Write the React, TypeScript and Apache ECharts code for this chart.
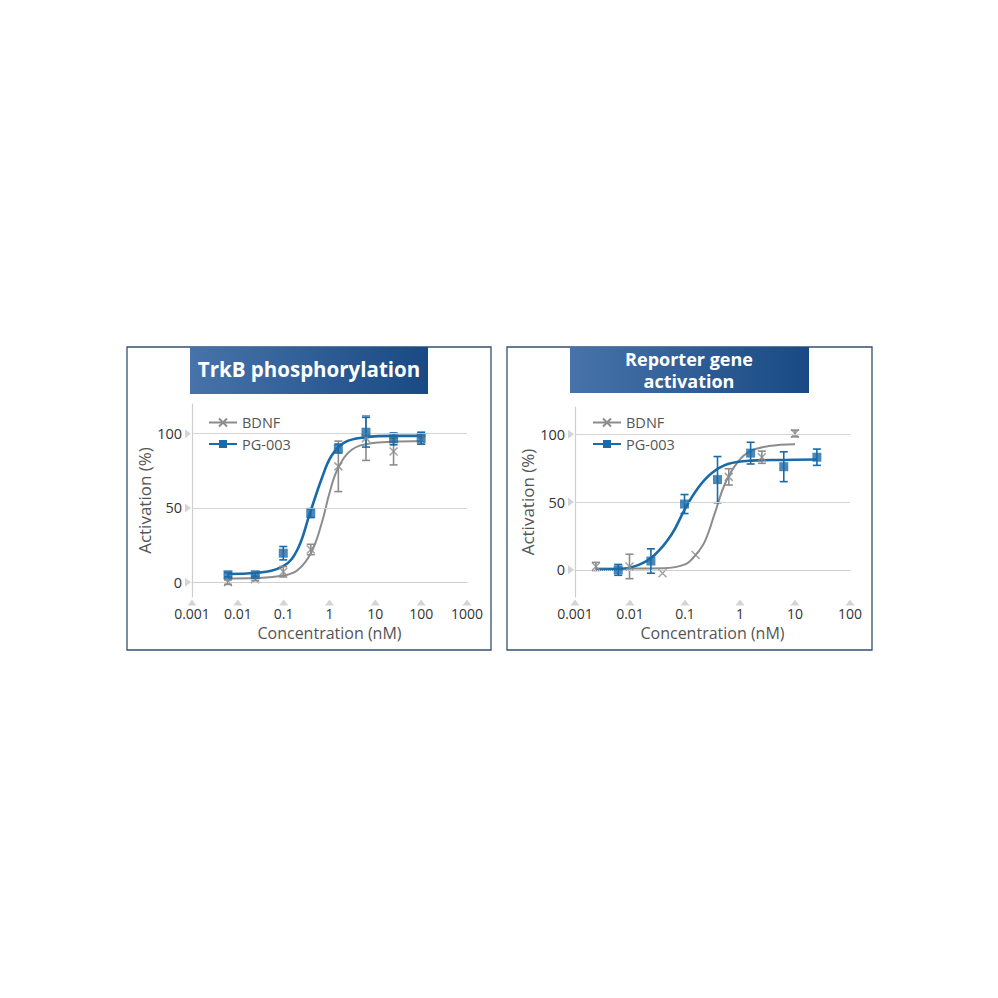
import { useRef, useEffect } from 'react';
import * as echarts from 'echarts';

// tick labels
const xTicksLeft = ['0.001', '0.01', '0.1', '1', '10', '100', '1000'];
const xTicksRight = ['0.001', '0.01', '0.1', '1', '10', '100'];
const yTicks = [0, 50, 100];

// TrkB phosphorylation – measured points
const leftConc = [0.0061, 0.024, 0.098, 0.39, 1.56, 6.25, 25, 100];
const leftBdnfMean = [0, 2, 7, 22, 78, 97, 88, 96];
const leftBdnfErr = [1.5, 1, 3.5, 3.5, 17, 15, 9, 3];
const leftPgMean = [5, 5, 19.5, 46.5, 90, 101, 96.5, 97];
const leftPgErr = [1.5, 1, 4.5, 3, 3, 10, 4, 4];

// TrkB phosphorylation – fitted curves
const leftPgCurveX = [0.0061, 0.025, 0.1, 0.2, 0.37, 0.68, 1.1, 2.1, 5.9, 25, 100];
const leftPgCurveY = [5.5, 6.3, 11, 22, 46, 70, 85, 94, 97.5, 98.5, 98.5];
const leftBdnfCurveX = [0.0061, 0.025, 0.1, 0.2, 0.4, 0.68, 1.0, 1.5, 3.0, 8, 25, 100];
const leftBdnfCurveY = [2.5, 2.8, 4.5, 8, 20, 40, 60, 76, 89, 93.5, 94.5, 95];

// Reporter gene activation – measured points
const rightBdnfConc = [0.0024, 0.0098, 0.039, 0.156, 0.625, 2.5, 10];
const rightBdnfMean = [2.5, 2.5, -2.5, 11, 68.5, 83, 100.5];
const rightBdnfErr = [3, 9, 0, 0, 6, 4.5, 2.5];
const rightPgConc = [0.0061, 0.024, 0.098, 0.39, 1.56, 6.25, 25];
const rightPgMean = [0, 6.5, 48.5, 66.5, 86, 76, 83];
const rightPgErr = [4, 9, 7, 17, 8, 11, 6];

// Reporter gene activation – fitted curves
const rightPgCurveX = [0.0024, 0.0061, 0.014, 0.028, 0.057, 0.1, 0.17, 0.3, 0.6, 1.56, 6.25, 25];
const rightPgCurveY = [0.3, 0.6, 3.5, 11, 26, 45, 60, 71, 78, 80.5, 81, 81.3];
const rightBdnfCurveX = [0.0024, 0.0098, 0.04, 0.1, 0.156, 0.23, 0.35, 0.54, 0.93, 1.55, 3.3, 10];
const rightBdnfCurveY = [1, 1, 1.2, 4, 11, 21, 42, 64, 80, 87.5, 91.2, 92.6];

const BLUE = '#1b6aa8';
const GRAY = '#8c8c8c';
const AXIS = '#cfcfcf';
const X_PATH = 'path://M0,0L10,10M0,10L10,0';
const FONT = '"Open Sans", "Noto Sans", sans-serif';

const zip = (xs: number[], ys: number[]) => xs.map((x, i) => [x, ys[i]]);
const zip3 = (xs: number[], ys: number[], es: number[]) => xs.map((x, i) => [x, ys[i], es[i]]);

const errorBars = (name: string, idx: number, data: number[][], color: string) => ({
  name,
  type: 'custom',
  xAxisIndex: idx,
  yAxisIndex: idx,
  silent: true,
  z: 3,
  data,
  renderItem: (_params: any, api: any) => {
    const x = api.value(0);
    const y = api.value(1);
    const e = api.value(2);
    if (!e) return { type: 'group', children: [] };
    const lo = api.coord([x, y - e]);
    const hi = api.coord([x, y + e]);
    const w = 4;
    const style = { stroke: color, lineWidth: 1.6 };
    return {
      type: 'group',
      children: [
        { type: 'line', shape: { x1: lo[0], y1: lo[1], x2: hi[0], y2: hi[1] }, style },
        { type: 'line', shape: { x1: lo[0] - w, y1: lo[1], x2: lo[0] + w, y2: lo[1] }, style },
        { type: 'line', shape: { x1: hi[0] - w, y1: hi[1], x2: hi[0] + w, y2: hi[1] }, style },
      ],
    };
  },
});

const curve = (name: string, idx: number, data: number[][], color: string, width: number, symbol: string) => ({
  name,
  type: 'line',
  xAxisIndex: idx,
  yAxisIndex: idx,
  data,
  smooth: 0.4,
  showSymbol: false,
  symbol,
  z: color === BLUE ? 2.5 : 2,
  lineStyle: { color, width },
  itemStyle: symbol === X_PATH
    ? { color, borderColor: color, borderWidth: 1.5 }
    : { color },
});

const markers = (name: string, idx: number, data: number[][], color: string, symbol: string, size: number) => ({
  name,
  type: 'scatter',
  xAxisIndex: idx,
  yAxisIndex: idx,
  data,
  symbol,
  symbolSize: size,
  silent: true,
  z: color === BLUE ? 5 : 4,
  itemStyle: symbol === X_PATH
    ? { color, borderColor: color, borderWidth: 1.5 }
    : { color },
});

const tickMarks = (idx: number, xTicks: string[], yMin: number) => ({
  type: 'scatter',
  xAxisIndex: idx,
  yAxisIndex: idx,
  silent: true,
  clip: false,
  z: 1,
  symbol: 'triangle',
  symbolSize: [9, 6],
  itemStyle: { color: '#c9c9c9' },
  data: [
    ...xTicks.map((t) => ({ value: [Number(t), yMin], symbolOffset: [0, 5.5] })),
    ...yTicks.map((t) => ({ value: [0.001, t], symbolOffset: [-4, 0], symbolRotate: -90 })),
  ],
  markLine: {
    silent: true,
    symbol: 'none',
    label: { show: false },
    lineStyle: { color: '#d4d4d4', width: 1, type: 'solid' },
    data: [
      { yAxis: 100 },
      { yAxis: 50 },
      { yAxis: 0, lineStyle: { type: 'dotted', color: '#cfcfcf' } },
    ],
  },
});

const xAxis = (idx: number, labels: string[]) => ({
  type: 'log',
  logBase: 10,
  gridIndex: idx,
  min: Number(labels[0]),
  max: Number(labels[labels.length - 1]),
  axisLine: { lineStyle: { color: AXIS, width: 1.2 } },
  axisTick: { show: false },
  splitLine: { show: false },
  axisLabel: {
    margin: 9,
    fontSize: 14,
    color: '#333',
    fontFamily: FONT,
    formatter: (v: number) => labels[Math.round(Math.log10(v)) + 3] ?? '',
  },
  name: 'Concentration (nM)',
  nameLocation: 'middle',
  nameGap: 27.5,
  nameTextStyle: { fontSize: 16, color: '#555', fontFamily: FONT },
});

const yAxis = (idx: number, min: number, gap: number) => ({
  type: 'value',
  gridIndex: idx,
  min,
  max: 120,
  interval: 10,
  axisLine: { show: true, lineStyle: { color: AXIS, width: 1.2 } },
  axisTick: { show: false },
  splitLine: { show: false },
  axisLabel: {
    margin: 10,
    fontSize: 14.5,
    color: '#333',
    fontFamily: FONT,
    formatter: (v: number) => (yTicks.includes(v) ? String(v) : ''),
  },
  name: 'Activation (%)',
  nameLocation: 'middle',
  nameGap: gap,
  nameTextStyle: { fontSize: 17, color: '#555', fontFamily: FONT },
});

const legend = (left: number) => ({
  orient: 'vertical',
  left,
  top: 410,
  itemWidth: 28,
  itemHeight: 10,
  itemGap: 6.5,
  data: ['BDNF', 'PG-003'],
  textStyle: { fontSize: 14.5, color: '#555', fontFamily: FONT },
});

const titleFill = () =>
  new echarts.graphic.LinearGradient(0, 0, 1, 0, [
    { offset: 0, color: '#4773aa' },
    { offset: 1, color: '#194a83' },
  ]);

export default function App() {
  const chartRef = useRef<HTMLDivElement>(null);

  useEffect(() => {
    if (!chartRef.current) return;
    const chart = echarts.init(chartRef.current, null, { renderer: 'svg' });

    const option = {
      animation: false,
      backgroundColor: '#fff',
      textStyle: { fontFamily: FONT },
      legend: [legend(203), legend(587)],
      grid: [
        { left: 192, top: 404, width: 275, height: 193 },
        { left: 575, top: 407, width: 275, height: 190 },
      ],
      xAxis: [xAxis(0, xTicksLeft), xAxis(1, xTicksRight)],
      yAxis: [yAxis(0, -10, 36), yAxis(1, -20, 38)],
      series: [
        curve('BDNF', 0, zip(leftBdnfCurveX, leftBdnfCurveY), GRAY, 2, X_PATH),
        curve('PG-003', 0, zip(leftPgCurveX, leftPgCurveY), BLUE, 2.6, 'rect'),
        curve('BDNF', 1, zip(rightBdnfCurveX, rightBdnfCurveY), GRAY, 2, X_PATH),
        curve('PG-003', 1, zip(rightPgCurveX, rightPgCurveY), BLUE, 2.6, 'rect'),
        tickMarks(0, xTicksLeft, -10),
        tickMarks(1, xTicksRight, -20),
        errorBars('BDNF', 0, zip3(leftConc, leftBdnfMean, leftBdnfErr), GRAY),
        errorBars('PG-003', 0, zip3(leftConc, leftPgMean, leftPgErr), BLUE),
        errorBars('BDNF', 1, zip3(rightBdnfConc, rightBdnfMean, rightBdnfErr), GRAY),
        errorBars('PG-003', 1, zip3(rightPgConc, rightPgMean, rightPgErr), BLUE),
        markers('BDNF', 0, zip(leftConc, leftBdnfMean), GRAY, X_PATH, 8),
        markers('PG-003', 0, zip(leftConc, leftPgMean), BLUE, 'rect', 9),
        markers('BDNF', 1, zip(rightBdnfConc, rightBdnfMean), GRAY, X_PATH, 8),
        markers('PG-003', 1, zip(rightPgConc, rightPgMean), BLUE, 'rect', 9),
      ],
      graphic: [
        { type: 'rect', shape: { x: 127, y: 347, width: 364, height: 303 }, style: { fill: 'none', stroke: '#34506f', lineWidth: 1.3 }, z: 0 },
        { type: 'rect', shape: { x: 507, y: 347, width: 365, height: 303 }, style: { fill: 'none', stroke: '#34506f', lineWidth: 1.3 }, z: 0 },
        { type: 'rect', shape: { x: 190, y: 347, width: 238, height: 47 }, style: { fill: titleFill() }, z: 1 },
        { type: 'rect', shape: { x: 570, y: 347, width: 239, height: 46 }, style: { fill: titleFill() }, z: 1 },
        {
          type: 'text', x: 309, y: 369, z: 2,
          style: { text: 'TrkB phosphorylation', fill: '#fff', font: `bold 20.5px ${FONT}`, align: 'center', verticalAlign: 'middle' },
        },
        {
          type: 'text', x: 689, y: 359, z: 2,
          style: { text: 'Reporter gene', fill: '#fff', font: `bold 18px ${FONT}`, align: 'center', verticalAlign: 'middle' },
        },
        {
          type: 'text', x: 689, y: 381, z: 2,
          style: { text: 'activation', fill: '#fff', font: `bold 18px ${FONT}`, align: 'center', verticalAlign: 'middle' },
        },
      ],
    };

    chart.setOption(option as any);
    return () => {
      chart.dispose();
    };
  }, []);

  return (
    <div
      ref={chartRef}
      style={{ position: 'fixed', left: 0, top: 0, width: 998, height: 998, background: '#fff' }}
    />
  );
}
